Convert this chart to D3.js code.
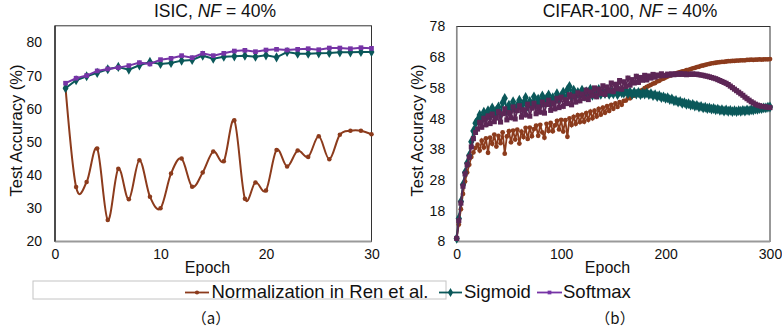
<!DOCTYPE html>
<html>
<head>
<meta charset="utf-8">
<script src="https://cdn.jsdelivr.net/npm/d3@7"></script>
<style>
  body { margin: 0; background: #fff; }
  svg { display: block; font-family: "Liberation Sans", Arial, Helvetica, sans-serif; }
</style>
</head>
<body>
<svg id="chart" width="782" height="330"></svg>
<script>
// ISIC panel, epochs 1..30
const isicEpochs = [1, 2, 3, 4, 5, 6, 7, 8, 9, 10, 11, 12, 13, 14, 15, 16, 17, 18, 19, 20, 21, 22, 23, 24, 25, 26, 27, 28, 29, 30];
const isicRen = [66.2, 36.4, 37.9, 48.0, 26.5, 41.9, 32.7, 44.5, 33.5, 30.0, 40.5, 45.0, 36.5, 40.8, 47.1, 44.2, 56.5, 32.9, 37.8, 35.4, 47.6, 42.6, 47.4, 45.5, 51.7, 44.8, 52.2, 53.4, 53.4, 52.3];
const isicSigmoid = [66.2, 68.6, 69.8, 70.8, 71.9, 72.6, 71.8, 73.1, 74.1, 73.5, 73.8, 74.5, 74.7, 76.0, 75.1, 75.7, 75.8, 76.0, 75.7, 76.1, 75.5, 77.1, 76.6, 76.6, 76.7, 76.8, 77.0, 77.0, 77.1, 77.1];
const isicSoftmax = [67.7, 69.2, 70.0, 71.4, 72.0, 72.4, 73.0, 73.9, 73.5, 74.8, 75.2, 76.0, 75.4, 76.7, 76.0, 76.7, 77.4, 77.6, 77.2, 77.7, 77.9, 77.7, 77.9, 78.1, 77.8, 78.3, 78.3, 78.1, 78.4, 78.2];
const isicYTicks = [20, 30, 40, 50, 60, 70, 80];
const isicXTicks = [0, 10, 20, 30];

// CIFAR-100 panel, every second epoch 0..300
const cifarEpochs = d3.range(0, 301, 2);
const cifarRen = [
  9.0, 13.5, 18.5, 23.5, 27.5, 30.5, 33.0, 35.5, 37.0, 38.5,
  39.5, 37.6, 40.8, 38.6, 41.6, 36.9, 41.8, 39.8, 42.8, 38.9,
  42.4, 40.0, 43.5, 36.6, 42.2, 43.9, 40.3, 44.1, 41.2, 44.4,
  39.9, 43.8, 42.0, 45.0, 41.4, 45.1, 42.3, 44.6, 45.7, 42.4,
  46.0, 43.5, 41.8, 46.3, 44.0, 46.6, 43.9, 45.8, 47.3, 44.5,
  47.6, 43.8, 47.5, 42.1, 48.1, 45.9, 48.6, 46.3, 49.1, 46.9,
  49.2, 47.0, 49.8, 47.6, 50.3, 48.1, 50.6, 48.7, 51.2, 49.3,
  51.6, 49.9, 52.1, 50.5, 52.5, 51.2, 53.0, 51.8, 53.4, 52.5,
  53.8, 53.9, 54.7, 54.6, 55.4, 55.5, 56.2, 56.4, 57.0, 57.4,
  57.9, 58.3, 58.7, 59.0, 59.4, 59.6, 60.1, 60.3, 60.8, 61.0,
  61.4, 61.7, 62.0, 62.2, 62.5, 62.7, 63.0, 63.1, 63.4, 63.5,
  63.8, 63.9, 64.1, 64.4, 64.5, 64.8, 64.9, 65.2, 65.3, 65.5,
  65.7, 65.8, 66.0, 66.1, 66.2, 66.3, 66.4, 66.5, 66.5, 66.6,
  66.7, 66.7, 66.8, 66.8, 66.9, 66.9, 67.0, 67.0, 67.0, 67.1,
  67.1, 67.2, 67.1, 67.2, 67.2, 67.3, 67.2, 67.3, 67.3, 67.3,
  67.4
];
const cifarSigmoid = [
  9.0, 15.5, 21.0, 26.5, 30.5, 33.5, 36.0, 40.5, 44.0, 46.5,
  47.5, 49.2, 47.6, 50.1, 48.3, 50.6, 48.8, 51.5, 49.0, 50.7,
  51.8, 49.6, 53.2, 54.6, 50.5, 52.4, 50.9, 53.5, 51.3, 52.2,
  54.0, 51.6, 53.1, 54.9, 52.0, 53.6, 52.6, 55.1, 52.4, 54.3,
  53.0, 55.4, 53.2, 54.6, 55.7, 53.3, 54.8, 53.9, 56.1, 54.0,
  55.3, 56.6, 54.4, 57.4, 58.5, 55.2, 57.3, 55.4, 56.5, 55.5,
  57.3, 55.3, 56.8, 55.9, 57.6, 55.6, 56.9, 56.0, 57.5, 55.9,
  56.8, 56.2, 57.4, 55.9, 56.7, 56.1, 57.3, 55.8, 56.9, 56.4,
  56.3, 56.9, 56.2, 56.7, 55.9, 56.6, 56.0, 56.5, 55.8, 56.3,
  56.0, 56.4, 55.8, 56.1, 55.5, 55.8, 55.2, 55.5, 54.9, 55.1,
  54.6, 54.8, 54.2, 54.4, 53.8, 53.9, 53.4, 53.6, 53.0, 53.2,
  52.7, 52.9, 52.4, 52.6, 52.1, 52.3, 51.8, 52.0, 51.5, 51.7,
  51.3, 51.5, 51.1, 51.3, 50.9, 51.1, 50.7, 50.9, 50.5, 50.8,
  50.4, 50.7, 50.3, 50.6, 50.3, 50.6, 50.4, 50.7, 50.5, 50.8,
  50.6, 50.9, 50.8, 51.1, 51.0, 51.3, 51.3, 51.5, 51.5, 51.7,
  51.8
];
const cifarSoftmax = [
  9.0, 14.8, 20.5, 26.0, 30.0, 33.0, 35.5, 38.8, 41.5, 43.5,
  44.6, 46.8, 45.2, 48.1, 46.0, 48.9, 46.4, 49.5, 47.0, 48.2,
  50.3, 46.9, 49.6, 51.2, 47.6, 50.0, 48.3, 51.8, 47.9, 50.6,
  52.2, 48.5, 50.9, 49.2, 52.7, 48.8, 51.4, 53.0, 49.6, 51.8,
  50.1, 53.4, 49.8, 52.6, 54.0, 50.7, 53.1, 51.2, 54.6, 51.6,
  55.0, 52.0, 54.2, 52.9, 55.8, 52.5, 55.3, 53.4, 56.4, 53.8,
  56.0, 54.6, 57.3, 54.2, 56.7, 55.5, 58.0, 55.1, 57.6, 56.2,
  58.7, 55.9, 58.3, 57.0, 59.6, 56.8, 59.2, 57.7, 60.4, 57.6,
  60.0, 58.5, 61.2, 58.9, 60.7, 59.6, 61.8, 59.8, 61.4, 60.5,
  62.1, 60.6, 61.9, 61.2, 62.4, 61.5, 62.2, 61.9, 62.6, 62.0,
  62.1, 62.5, 62.2, 62.6, 62.3, 62.6, 62.4, 62.7, 62.4, 62.6,
  62.3, 62.5, 62.4, 62.6, 62.4, 62.5, 62.3, 62.2, 62.1, 61.9,
  61.8, 61.6, 61.4, 61.2, 61.0, 60.7, 60.4, 60.1, 59.8, 59.5,
  59.1, 58.6, 58.1, 57.6, 57.1, 56.6, 56.1, 55.6, 55.0, 54.5,
  54.0, 53.5, 53.1, 52.7, 52.4, 52.2, 52.0, 51.9, 51.8, 51.7,
  51.6
];
const cifarYTicks = [8, 18, 28, 38, 48, 58, 68, 78];
const cifarXTicks = [0, 100, 200, 300];

const seriesNames = ["Normalization in Ren et al.", "Sigmoid", "Softmax"];

const brown = "#8c3b1c";
const teal = "#0b585a";
const purple = "#7634a6";
const plum = "#5c2656";

const svg = d3.select("#chart");

function drawPanel(opt) {
  const x = d3.scaleLinear().domain(opt.xDomain).range(opt.xRange);
  const y = d3.scaleLinear().domain(opt.yDomain).range(opt.yRange);
  const g = svg.append("g");

  // frame
  g.append("rect")
    .attr("x", opt.xRange[0]).attr("y", opt.yRange[1])
    .attr("width", opt.xRange[1] - opt.xRange[0])
    .attr("height", opt.yRange[0] - opt.yRange[1])
    .attr("fill", "none").attr("stroke", "#333").attr("stroke-width", 1);
  g.append("line")
    .attr("x1", opt.xRange[0]).attr("x2", opt.xRange[1])
    .attr("y1", opt.yRange[0]).attr("y2", opt.yRange[0])
    .attr("stroke", "#9a9a9a").attr("stroke-width", 2);
  g.append("line")
    .attr("x1", opt.xRange[0]).attr("x2", opt.xRange[0])
    .attr("y1", opt.yRange[1]).attr("y2", opt.yRange[0])
    .attr("stroke", opt.leftStroke).attr("stroke-width", 1.5);

  const yAxis = g.append("g")
    .attr("transform", `translate(${opt.xRange[0]},0)`)
    .call(d3.axisLeft(y).tickValues(opt.yTicks).tickSize(0).tickPadding(opt.yPad));
  const xAxis = g.append("g")
    .attr("transform", `translate(0,${opt.yRange[0]})`)
    .call(d3.axisBottom(x).tickValues(opt.xTicks).tickSize(0).tickPadding(8));
  [yAxis, xAxis].forEach(a => {
    a.select(".domain").remove();
    a.selectAll("text").attr("font-size", 14).attr("fill", "#111")
      .attr("font-family", "'Liberation Sans', Arial, sans-serif");
  });

  opt.series.forEach(s => {
    const pts = opt.epochs.map((e, i) => [e, s.values[i]]);
    const line = d3.line().x(d => x(d[0])).y(d => y(d[1]));
    if (s.smooth) line.curve(d3.curveCatmullRom.alpha(0));
    g.append("path")
      .datum(pts)
      .attr("d", line)
      .attr("fill", "none")
      .attr("stroke", s.color)
      .attr("stroke-width", opt.lineWidth);
    g.append("g").selectAll("path")
      .data(pts)
      .join("path")
      .attr("transform", d => `translate(${x(d[0])},${y(d[1])})`)
      .attr("d", d3.symbol().type(s.symbol).size(s.size))
      .attr("fill", s.color);
  });

  // title
  const t = g.append("text")
    .attr("x", opt.titleX).attr("y", 17)
    .attr("text-anchor", "middle")
    .attr("font-size", 17.5).attr("fill", "#111");
  t.append("tspan").text(opt.title + ", ");
  t.append("tspan").attr("font-style", "italic").text("NF");
  t.append("tspan").text(" = 40%");

  g.append("text")
    .attr("x", opt.epochX).attr("y", 272.5)
    .attr("text-anchor", "middle")
    .attr("font-size", 16).attr("fill", "#111")
    .text("Epoch");

  g.append("text")
    .attr("transform", `translate(${opt.ylabX},130.5) rotate(-90)`)
    .attr("text-anchor", "middle")
    .attr("font-size", 16.5).attr("fill", "#111")
    .text("Test Accuracy (%)");

  g.append("text")
    .attr("x", opt.subX).attr("y", 324)
    .attr("text-anchor", "middle")
    .attr("font-size", 15).attr("fill", "#111")
    .attr("font-family", "'Noto Sans CJK SC', sans-serif")
    .text(opt.sub);
}

drawPanel({
  title: "ISIC", titleX: 215, epochX: 207.5, ylabX: 22, subX: 211, sub: "（a）",
  xDomain: [0, 30], xRange: [55, 371.5],
  yDomain: [20, 85], yRange: [241.5, 25.8],
  xTicks: isicXTicks, yTicks: isicYTicks, yPad: 13, leftStroke: "#333",
  epochs: isicEpochs, lineWidth: 2,
  series: [
    { values: isicRen, color: brown, symbol: d3.symbolCircle, size: 16, smooth: true },
    { values: isicSigmoid, color: teal, symbol: d3.symbolDiamond, size: 30 },
    { values: isicSoftmax, color: purple, symbol: d3.symbolSquare, size: 22 }
  ]
});

drawPanel({
  title: "CIFAR-100", titleX: 630, epochX: 607.5, ylabX: 423, subX: 615, sub: "（b）",
  xDomain: [0, 300], xRange: [456.7, 770],
  yDomain: [8, 78], yRange: [241.5, 26.5],
  xTicks: cifarXTicks, yTicks: cifarYTicks, yPad: 11.5, leftStroke: "#888",
  epochs: cifarEpochs, lineWidth: 1.8,
  series: [
    { values: cifarRen, color: brown, symbol: d3.symbolCircle, size: 18 },
    { values: cifarSigmoid, color: teal, symbol: d3.symbolDiamond, size: 34 },
    { values: cifarSoftmax, color: plum, symbol: d3.symbolSquare, size: 26 }
  ]
});

// legend
const legend = svg.append("g");
legend.append("rect")
  .attr("x", 33).attr("y", 281).attr("width", 413).attr("height", 18)
  .attr("fill", "none").attr("stroke", "#c4c4c4").attr("stroke-width", 1);

const legendItems = [
  { name: seriesNames[0], color: brown, symbol: d3.symbolCircle, size: 14, x0: 185, x1: 209, tx: 211.5 },
  { name: seriesNames[1], color: teal, symbol: d3.symbolDiamond, size: 24, x0: 439, x1: 462, tx: 464 },
  { name: seriesNames[2], color: purple, symbol: d3.symbolSquare, size: 14, x0: 537, x1: 562, tx: 563 }
];
legendItems.forEach(it => {
  legend.append("line")
    .attr("x1", it.x0).attr("x2", it.x1).attr("y1", 292.5).attr("y2", 292.5)
    .attr("stroke", it.color).attr("stroke-width", 1.8);
  legend.append("path")
    .attr("transform", `translate(${(it.x0 + it.x1) / 2},292.5)`)
    .attr("d", d3.symbol().type(it.symbol).size(it.size))
    .attr("fill", it.color);
  legend.append("text")
    .attr("x", it.tx).attr("y", 298)
    .attr("font-size", 18.5).attr("fill", "#111")
    .text(it.name);
});
</script>
</body>
</html>
